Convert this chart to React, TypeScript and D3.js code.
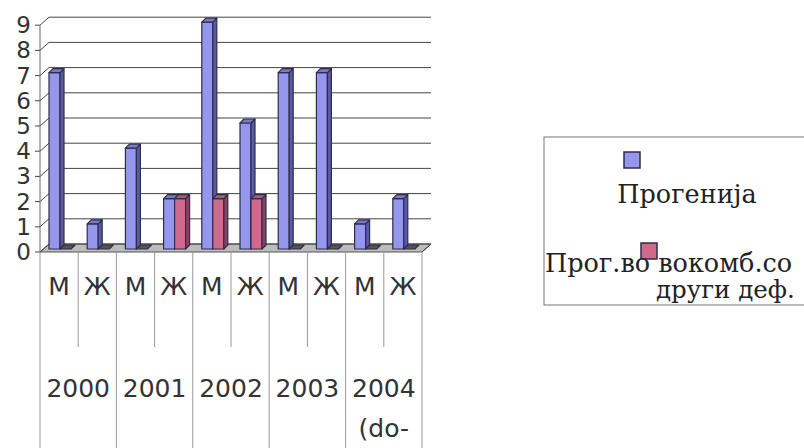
import React from "react";
import * as d3 from "d3";

const categories = ["М", "Ж", "М", "Ж", "М", "Ж", "М", "Ж", "М", "Ж"];
const years = [["2000"], ["2001"], ["2002"], ["2003"], ["2004", "(do-"]];
const progenija = [7, 1, 4, 2, 9, 5, 7, 7, 1, 2];
const progKomb = [0, 0, 0, 2, 2, 2, 0, 0, 0, 0];
const yTicks = [0, 1, 2, 3, 4, 5, 6, 7, 8, 9];
const seriesNames = ["Прогенија", "Прог.во вокомб.со", "други деф."];

const W = 804;
const H = 448;
const DX = 9;
const DY = -8;
const SANS = "'DejaVu Sans', 'Liberation Sans', sans-serif";
const SERIF = "'DejaVu Serif', serif";

const x = d3.scaleBand<number>().domain(d3.range(categories.length)).range([40, 422]).padding(0);
const y = d3.scaleLinear().domain([0, 9]).range([252, 25.2]);

const blue = { front: "#9696ec", side: "#5a5aa6", top: "#7878cc" };
const red = { front: "#cf6a8c", side: "#8a4260", top: "#b0587a" };
const outline = "#2e2e48";

function Bar({ x0, v, w, c }: { x0: number; v: number; w: number; c: any }) {
  const yb = y(0) - 3;
  const yt = y(v) - 3;
  const bx = 4;
  const by = -4;
  const flat = v === 0;
  return (
    <g stroke={outline} strokeWidth={1.2} strokeLinejoin="round">
      {!flat && <rect x={x0} y={yt} width={w} height={yb - yt} fill={c.front} />}
      {!flat && (
        <path d={`M${x0 + w},${yt} L${x0 + w + bx},${yt + by} L${x0 + w + bx},${yb + by} L${x0 + w},${yb} Z`} fill={c.side} />
      )}
      <path
        d={`M${x0},${yt} L${x0 + bx},${yt + by} L${x0 + w + bx},${yt + by} L${x0 + w},${yt} Z`}
        fill={flat ? "#555" : c.top}
      />
    </g>
  );
}

export default function App() {
  const x0 = x(0)!;
  const x1 = x.range()[1];
  const bw = x.bandwidth();
  return (
    <svg width={W} height={H} style={{ position: "absolute", left: 0, top: 0, background: "#fff" }}>
      {/* floor */}
      <path
        d={`M${x0},${y(0)} L${x1},${y(0)} L${x1 + DX},${y(0) + DY} L${x0 + DX},${y(0) + DY} Z`}
        fill="#bcbcbc"
        stroke="#555"
        strokeWidth={1}
      />
      {/* gridlines on back wall */}
      {yTicks.map((t) => (
        <g key={t} stroke="#444" strokeWidth={1} fill="none">
          <line x1={x0 + DX} x2={x1 + DX} y1={y(t) + DY} y2={y(t) + DY} />
          <line x1={x0} x2={x0 + DX} y1={y(t)} y2={y(t) + DY} />
          <line x1={x0 - 5} x2={x0} y1={y(t)} y2={y(t)} />
        </g>
      ))}
      <line x1={x1} x2={x1 + DX} y1={y(0)} y2={y(0) + DY} stroke="#444" />
      <line x1={x0} x2={x0} y1={y(9)} y2={y(0)} stroke="#666" />
      {/* y tick labels */}
      {yTicks.map((t) => (
        <text key={t} x={31} y={y(t) + 8} textAnchor="end" fontFamily={SANS} fontSize={23} fill="#333">
          {t}
        </text>
      ))}
      {/* bars */}
      {categories.map((_, i) => {
        const bx = x(i)! + 9;
        return (
          <g key={i}>
            <Bar x0={bx} v={progenija[i]} w={11} c={blue} />
            <Bar x0={bx + 11} v={progKomb[i]} w={11} c={red} />
          </g>
        );
      })}
      {/* category separator lines */}
      {d3.range(categories.length + 1).map((i) => {
        const xx = i === categories.length ? x1 : x(i)!;
        const long = i % 2 === 0;
        return <line key={i} x1={xx} x2={xx} y1={y(0)} y2={long ? H : 347} stroke="#999" strokeWidth={1} />;
      })}
      {/* sub labels */}
      {categories.map((c, i) => (
        <text key={i} x={x(i)! + bw / 2} y={295} textAnchor="middle" fontFamily={SANS} fontSize={25} fill="#333">
          {c}
        </text>
      ))}
      {/* year labels */}
      {years.map((lines, g) => (
        <text key={g} x={x(g * 2 + 1)!} y={397} textAnchor="middle" fontFamily={SANS} fontSize={25} fill="#333">
          {lines.map((l, k) => (
            <tspan key={k} x={x(g * 2 + 1)!} dy={k === 0 ? 0 : 40}>
              {l}
            </tspan>
          ))}
        </text>
      ))}
      {/* legend */}
      <rect x={544} y={137} width={300} height={168} fill="#fff" stroke="#777" strokeWidth={1} />
      <rect x={624} y={152} width={16} height={16} fill={blue.front} stroke={outline} strokeWidth={1.5} />
      <text x={687} y={203} textAnchor="middle" fontFamily={SERIF} fontSize={25.5} fill="#222">
        {seriesNames[0]}
      </text>
      <rect x={641} y={243} width={16} height={16} fill={red.front} stroke={outline} strokeWidth={1.5} />
      <text x={545} y={272} fontFamily={SERIF} fontSize={25.5} fill="#222">
        {seriesNames[1]}
      </text>
      <text x={656} y={298} fontFamily={SERIF} fontSize={24.5} fill="#222">
        {seriesNames[2]}
      </text>
    </svg>
  );
}
